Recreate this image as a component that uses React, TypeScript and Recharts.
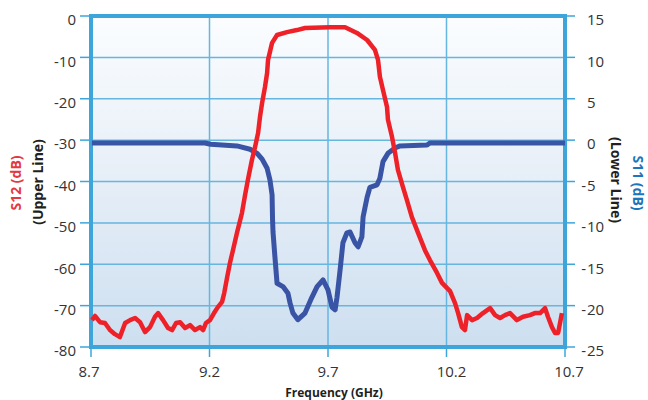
import React from 'react';
import { LineChart, Line, XAxis, YAxis, CartesianGrid, ReferenceArea } from 'recharts';

// S12 (upper line, left axis)
const s12Freq = [
  8.704, 8.717, 8.738, 8.759, 8.78, 8.801, 8.822, 8.844, 8.865, 8.886, 8.907, 8.928, 8.949, 8.97, 8.983,
  9.004, 9.025, 9.042, 9.059, 9.076, 9.097, 9.118, 9.139, 9.16, 9.173, 9.185, 9.202, 9.219, 9.236, 9.253,
  9.262, 9.275, 9.287, 9.299, 9.316, 9.337, 9.35, 9.362, 9.379, 9.392, 9.405, 9.413, 9.422, 9.434, 9.443,
  9.447, 9.464, 9.485, 9.527, 9.569, 9.603, 9.708, 9.772, 9.822, 9.865, 9.898, 9.911, 9.919, 9.932, 9.949,
  9.953, 9.97, 9.983, 9.995, 10.016, 10.033, 10.054, 10.08, 10.109, 10.13, 10.16, 10.181, 10.215, 10.236,
  10.249, 10.265, 10.278, 10.287, 10.308, 10.329, 10.354, 10.384, 10.405, 10.426, 10.447, 10.468, 10.497,
  10.523, 10.552, 10.573, 10.595, 10.616, 10.628, 10.645, 10.658, 10.671, 10.687,
];
const s12Values = [
  -73.5, -72.5, -74.0, -74.2, -75.9, -76.9, -77.6, -74.2, -73.5, -73.0, -74.0, -76.4, -75.2, -72.7, -71.8,
  -73.5, -75.4, -75.9, -74.2, -74.0, -75.4, -74.7, -75.9, -75.2, -75.9, -74.2, -73.5, -71.8, -70.3, -69.1,
  -67.0, -63.0, -59.5, -56.6, -52.4, -47.6, -43.3, -39.6, -34.8, -31.7, -28.3, -24.4, -21.0, -17.2, -13.8,
  -10.6, -6.5, -4.6, -3.9, -3.4, -2.9, -2.7, -2.7, -4.1, -5.8, -8.2, -10.6, -14.7, -17.9, -22.0,
  -25.1, -29.2, -33.1, -37.2, -41.3, -44.5, -48.6, -52.4, -56.6, -59.0, -62.1, -64.5, -66.5, -69.4,
  -71.8, -75.2, -75.9, -72.3, -73.5, -73.0, -71.8, -70.6, -72.3, -73.0, -72.3, -71.8, -73.5,
  -72.7, -72.3, -71.8, -71.8, -70.6, -72.7, -75.2, -76.6, -76.6, -71.8,
];

// S11 (lower line, right axis)
const s11Freq = [
  8.704, 9.181, 9.205, 9.316, 9.371, 9.401, 9.422, 9.443, 9.455, 9.464, 9.466, 9.468, 9.476, 9.485, 9.51,
  9.531, 9.54, 9.552, 9.573, 9.603, 9.632, 9.654, 9.679, 9.7, 9.717, 9.73, 9.738, 9.751, 9.763, 9.78,
  9.793, 9.814, 9.827, 9.843, 9.848, 9.865, 9.877, 9.907, 9.919, 9.932, 9.953, 9.983, 10.004, 10.118,
  10.13, 10.7,
];
const s11Values = [
  -0.35, -0.35, -0.5, -0.7, -1.1, -1.6, -2.3, -3.4, -4.8, -6.6, -9.6, -11.1, -14.1, -17.3, -17.7,
  -18.5, -19.7, -20.9, -21.7, -20.9, -19.0, -17.7, -16.9, -18.1, -20.2, -20.5, -19.0, -15.7, -12.4, -11.2,
  -11.1, -12.4, -12.9, -11.7, -9.3, -6.9, -5.7, -5.4, -4.6, -2.6, -1.6, -0.95, -0.7, -0.6,
  -0.35, -0.35,
];

const xTicks = [8.7, 9.2, 9.7, 10.2, 10.7];
const leftTicks = [0, -10, -20, -30, -40, -50, -60, -70, -80];
const rightTicks = [15, 10, 5, 0, -5, -10, -15, -20, -25];

type Row = { freq: number; s12?: number; s11?: number };
const rowMap = new Map<number, Row>();
s12Freq.forEach((f, i) => {
  const r = rowMap.get(f) || { freq: f };
  r.s12 = s12Values[i];
  rowMap.set(f, r);
});
s11Freq.forEach((f, i) => {
  const r = rowMap.get(f) || { freq: f };
  r.s11 = s11Values[i];
  rowMap.set(f, r);
});
const data: Row[] = Array.from(rowMap.values()).sort((a, b) => a.freq - b.freq);

const FONT = "'Open Sans', 'DejaVu Sans', sans-serif";
const TEXT = '#333333';
const BLUE_UI = '#3ea5da';

const LeftTick = (props: any) => {
  const { x, y, payload } = props;
  return (
    <text x={x} y={y + 4} dy="0.355em" textAnchor="end" fontSize={15} fill={TEXT} fontFamily={FONT}>
      {String(payload.value)}
    </text>
  );
};

const RightTick = (props: any) => {
  const { x, y, payload } = props;
  const v = payload.value as number;
  return (
    <g>
      {v < 0 && (
        <text x={x - 1} y={y + 4} dy="0.355em" textAnchor="end" fontSize={15} fill={TEXT} fontFamily={FONT}>
          -
        </text>
      )}
      <text x={x} y={y + 4} dy="0.355em" textAnchor="start" fontSize={15} fill={TEXT} fontFamily={FONT}>
        {String(Math.abs(v))}
      </text>
    </g>
  );
};

const xLabelShift: Record<string, number> = { '8.7': -2, '10.2': 5, '10.7': 4 };
const BottomTick = (props: any) => {
  const { x, y, payload } = props;
  const s = String(payload.value);
  return (
    <text x={x + (xLabelShift[s] || 0)} y={y} dy="0.71em" textAnchor="middle" fontSize={15} fill={TEXT} fontFamily={FONT}>
      {s}
    </text>
  );
};

export default function App() {
  return (
    <div style={{ position: 'absolute', left: 0, top: 0, width: 648, height: 400, background: '#ffffff' }}>
      <div
        style={{
          position: 'absolute',
          left: 91,
          top: 16,
          width: 474,
          height: 331,
          background: 'linear-gradient(to bottom, #fbfdff 0%, #e6eef7 50%, #cddff0 100%)',
        }}
      />
      <div style={{ position: 'absolute', left: 0, top: 0 }}>
        <LineChart width={648} height={400} data={data} margin={{ top: 16, right: 0, bottom: 0, left: 0 }}>
          <CartesianGrid
            yAxisId="left"
            stroke="#66b6e0"
            strokeWidth={1.5}
            horizontalValues={leftTicks}
            verticalValues={xTicks}
          />
          <XAxis
            dataKey="freq"
            type="number"
            domain={[8.7, 10.7]}
            ticks={xTicks}
            height={53}
            axisLine={false}
            tickSize={10}
            tickMargin={9}
            tickLine={{ stroke: BLUE_UI, strokeWidth: 1.5 }}
            tick={<BottomTick />}
            interval={0}
          />
          <YAxis
            yAxisId="left"
            orientation="left"
            type="number"
            domain={[-80, 0]}
            ticks={leftTicks}
            width={91}
            axisLine={false}
            tickSize={11}
            tickMargin={4}
            tickLine={{ stroke: BLUE_UI, strokeWidth: 1.5 }}
            tick={<LeftTick />}
            interval={0}
          />
          <YAxis
            yAxisId="right"
            orientation="right"
            type="number"
            domain={[-25, 15]}
            ticks={rightTicks}
            width={83}
            axisLine={false}
            tickSize={10}
            tickMargin={12}
            tickLine={{ stroke: BLUE_UI, strokeWidth: 1.5 }}
            tick={<RightTick />}
            interval={0}
          />
          <Line
            yAxisId="right"
            dataKey="s11"
            stroke="#3a54a5"
            strokeWidth={5}
            dot={false}
            connectNulls
            isAnimationActive={false}
            strokeLinejoin="round"
            type="linear"
          />
          <Line
            yAxisId="left"
            dataKey="s12"
            stroke="#ee2129"
            strokeWidth={4.5}
            dot={false}
            connectNulls
            isAnimationActive={false}
            strokeLinejoin="round"
            type="linear"
          />
          <ReferenceArea
            yAxisId="left"
            x1={8.7}
            x2={10.7}
            y1={-80}
            y2={0}
            fill="none"
            fillOpacity={0}
            stroke={BLUE_UI}
            strokeWidth={4}
            ifOverflow="visible"
          />
        </LineChart>
      </div>
      <svg
        width={648}
        height={400}
        style={{ position: 'absolute', left: 0, top: 0, pointerEvents: 'none' }}
        fontFamily={FONT}
      >
        <text
          transform="translate(15,183) rotate(-90)"
          textAnchor="middle"
          dominantBaseline="central"
          fontSize={14}
          fontWeight={700}
          fill="#e4393f"
        >
          S12 (dB)
        </text>
        <text
          transform="translate(37,182) rotate(-90)"
          textAnchor="middle"
          dominantBaseline="central"
          fontSize={14}
          fontWeight={700}
          fill="#231f20"
        >
          (Upper Line)
        </text>
        <text
          transform="translate(616,180) rotate(90)"
          textAnchor="middle"
          dominantBaseline="central"
          fontSize={14}
          fontWeight={700}
          fill="#231f20"
        >
          (Lower Line)
        </text>
        <text
          transform="translate(638,183) rotate(90)"
          textAnchor="middle"
          dominantBaseline="central"
          fontSize={14}
          fontWeight={700}
          fill="#1c76bc"
        >
          S11 (dB)
        </text>
        <text x={334} y={397} textAnchor="middle" fontSize={12} fontWeight={700} fill="#231f20">
          Frequency (GHz)
        </text>
      </svg>
    </div>
  );
}
